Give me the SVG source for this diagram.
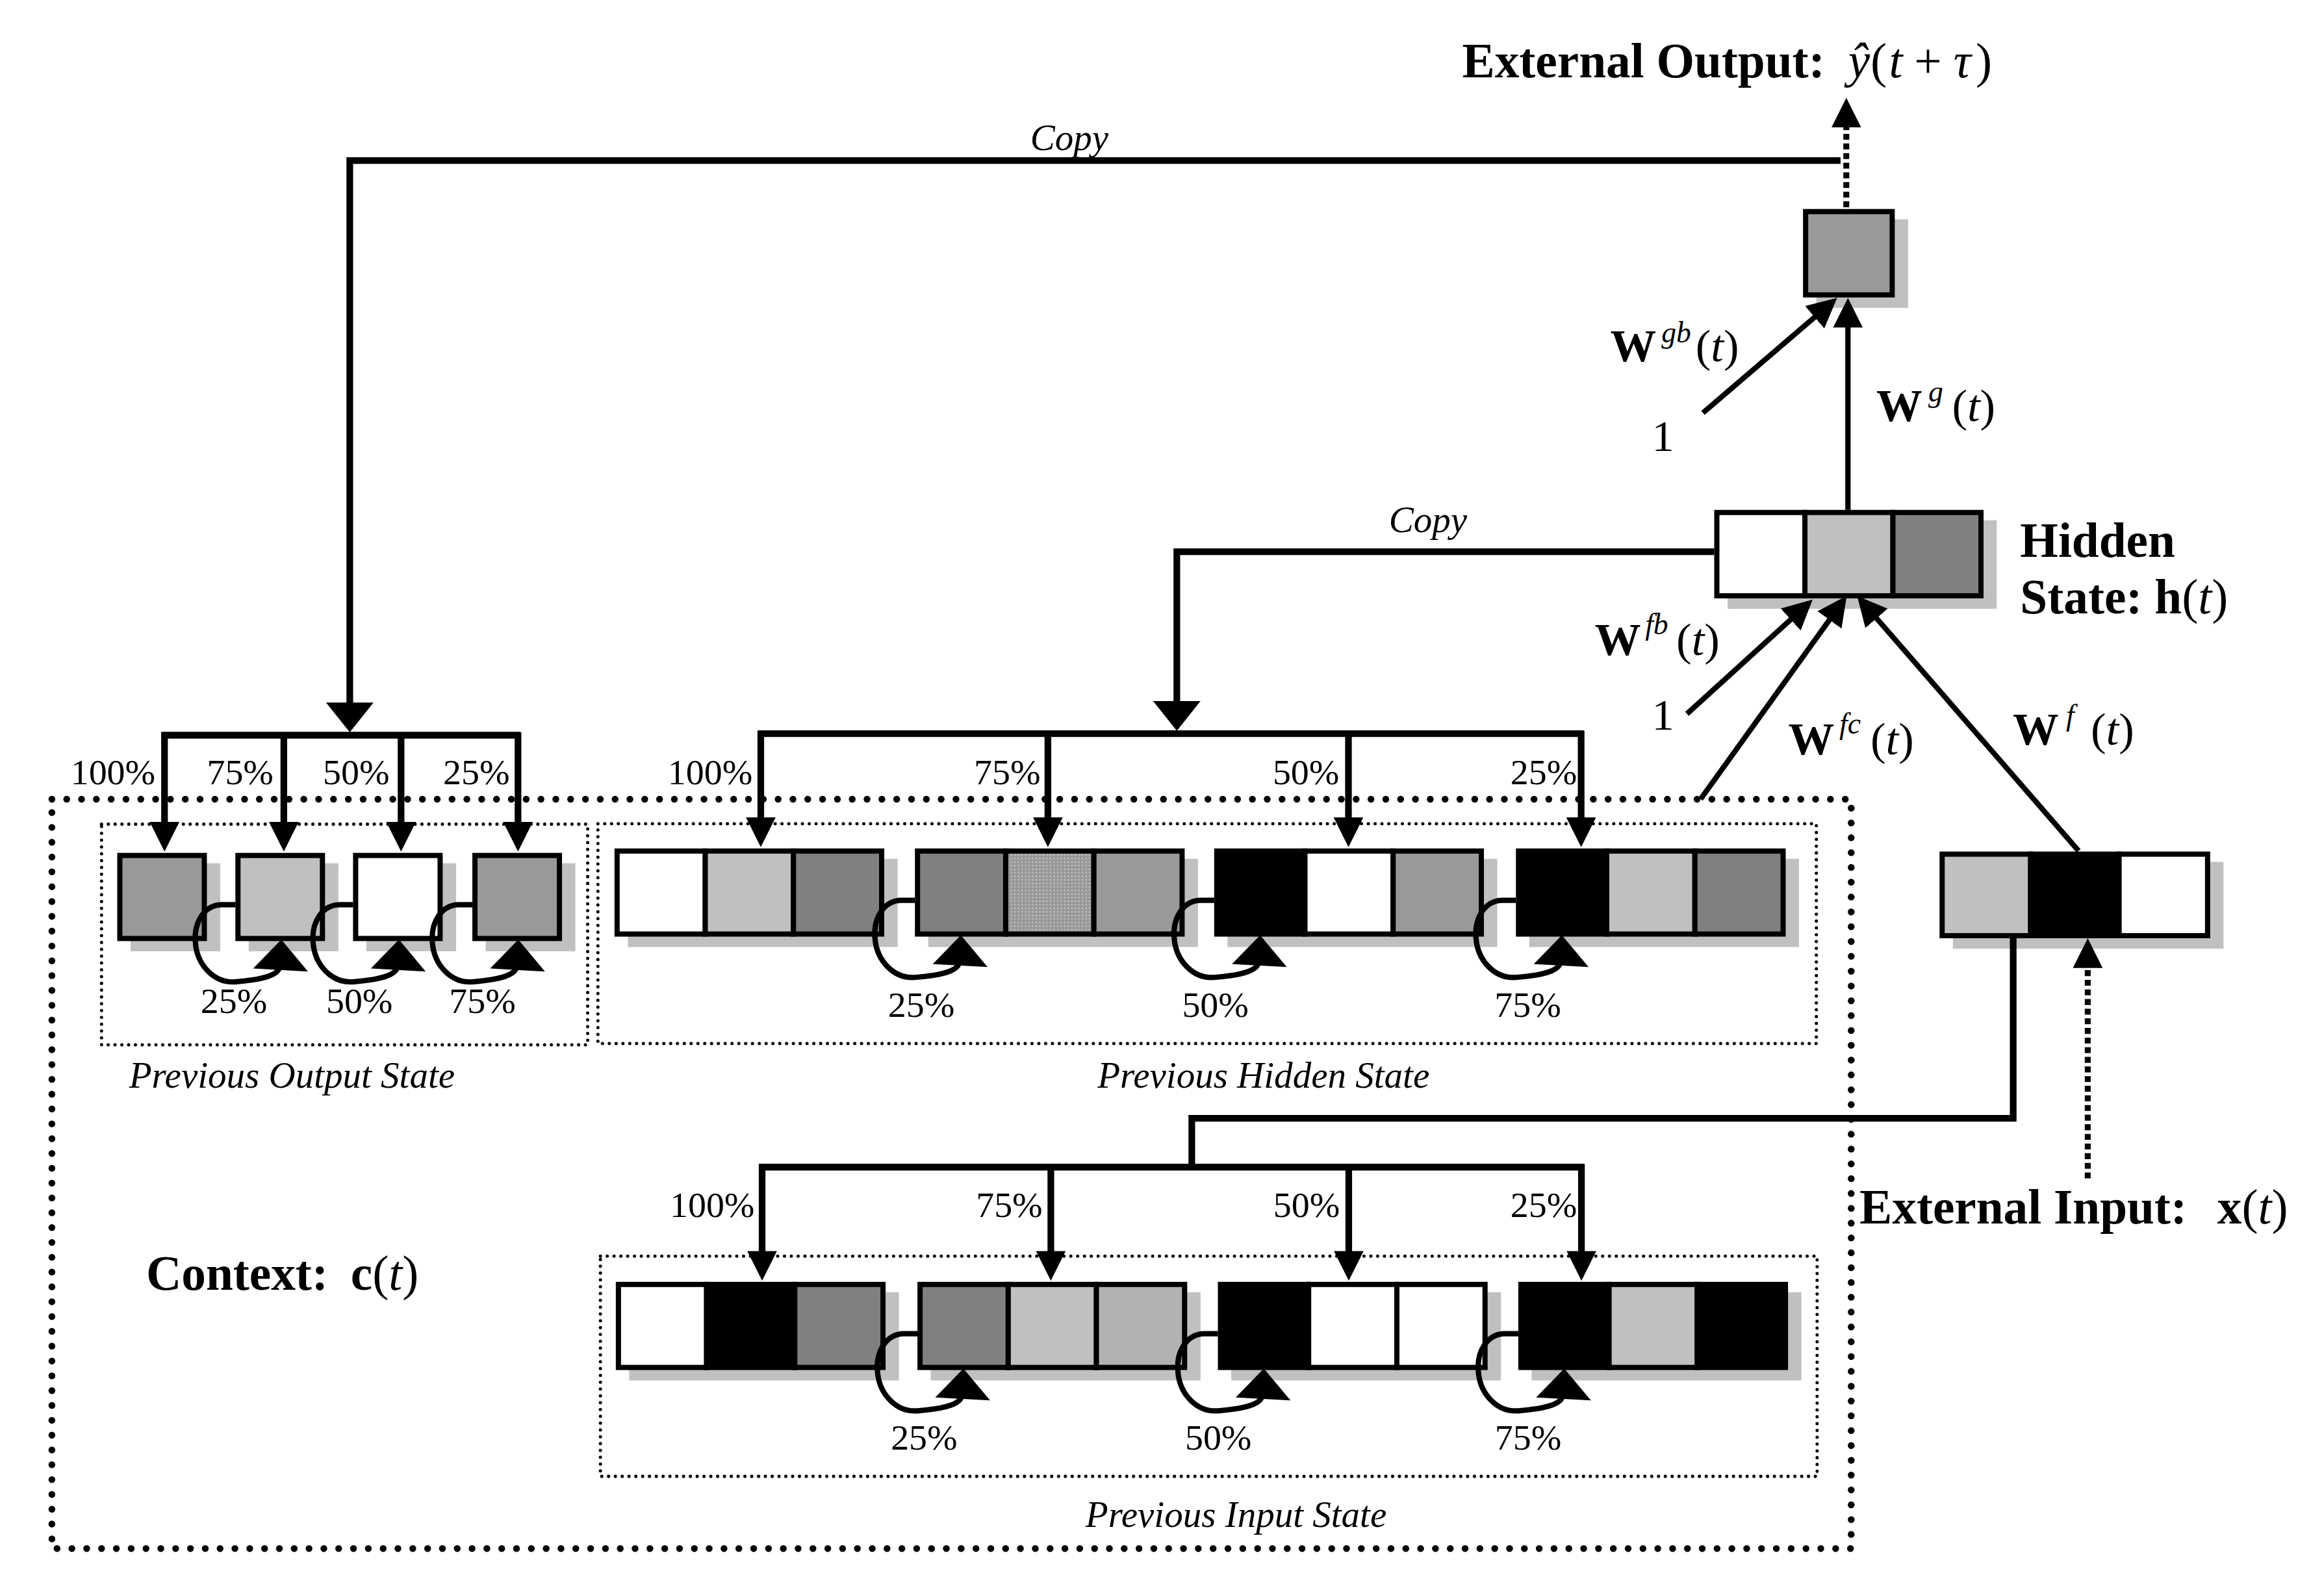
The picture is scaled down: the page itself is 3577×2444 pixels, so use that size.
<svg xmlns="http://www.w3.org/2000/svg" width="3577" height="2444" viewBox="0 0 3577 2444">
<style>
text{font-family:"Liberation Serif","Times New Roman",serif;fill:#000}
.pct{font-size:24.5px}
.lbl{font-size:25px;font-style:italic}
.bold{font-size:33px;font-weight:bold}
.math{font-size:33px}
.wb{font-size:31px;font-weight:bold}
.sup{font-size:20px;font-style:italic;font-weight:normal}
.par{font-size:31px;font-weight:normal}
.one{font-size:30px}
.i{font-style:italic;font-weight:normal}
.n{font-weight:normal;font-style:normal}
.cell{stroke:#000;stroke-width:3.5}
.sh{fill:#c0c0c0}
.conn{fill:none;stroke:#000;stroke-width:4.5}
.w{fill:none;stroke:#000;stroke-width:3.6}
.dash{fill:none;stroke:#000;stroke-width:4;stroke-dasharray:4 2.5}
.outer{fill:none;stroke:#000;stroke-width:4.6;stroke-linecap:round;stroke-dasharray:0 10}
.inner{fill:none;stroke:#000;stroke-width:2.2;stroke-linecap:round;stroke-dasharray:0 4.6}
</style>
<defs>
<marker id="ah" markerUnits="userSpaceOnUse" markerWidth="20" markerHeight="20" refX="8" refY="10" orient="auto" viewBox="0 0 20 20"><path d="M0,0 L20,10 L0,20 z" fill="#000"/></marker>
<marker id="ahb" markerUnits="userSpaceOnUse" markerWidth="20" markerHeight="32" refX="8" refY="16" orient="auto" viewBox="0 0 20 32"><path d="M0,0 L20,16 L0,32 z" fill="#000"/></marker>
<pattern id="dots" width="2.4" height="2.4" patternUnits="userSpaceOnUse"><rect width="2.4" height="2.4" fill="#999"/><rect x="0.4" y="0.4" width="0.8" height="0.8" fill="#d4d4d4"/></pattern>
<g id="loop"><path class="w" d="M0,35 H-9 C-21,35 -28,47 -27,60 C-26,76 -14,88 0,87 C12,86 30,84 30,76"/><polygon points="31,58.5 12,78 49,80" fill="#000"/></g>
</defs>
<rect width="3577" height="2444" fill="#fff"/>
<g transform="scale(2.28125)">

<g id="context-frames">
<rect class="outer" x="35" y="539.2" width="1214" height="505.5"/>
<rect class="inner" x="68.5" y="556" width="328" height="148.9"/>
<rect class="inner" x="403.4" y="555.7" width="822.1" height="148.3"/>
<rect class="inner" x="405.1" y="847.5" width="820.9" height="148.5"/>
<text class="lbl" x="197" y="734" text-anchor="middle">Previous Output State</text>
<text class="lbl" x="852.5" y="734" text-anchor="middle">Previous Hidden State</text>
<text class="lbl" x="834" y="1030" text-anchor="middle">Previous Input State</text>
<text class="bold" x="98.6" y="870">Context:<tspan x="236.6">c</tspan><tspan class="n">(</tspan><tspan class="i">t</tspan><tspan class="n">)</tspan></text>
</g>

<g id="output-node">
<rect class="sh" x="1225.5" y="148" width="61.9" height="59.7"/>
<rect class="cell" x="1218.25" y="142.75" width="58.4" height="56.2" fill="#999"/>
<text class="bold" x="986.5" y="52">External Output:</text>
<text class="math i" x="1247" y="52">ŷ</text>
<text class="math" x="1262" y="52">(</text>
<text class="math i" x="1274.5" y="52">t</text>
<text class="math" x="1291.5" y="52">+</text>
<text class="math i" x="1318" y="52">τ</text>
<text class="math" x="1333" y="52">)</text>
</g>

<g id="hidden-state">
<rect class="sh" x="1165.6" y="351" width="181.6" height="59.7"/>
<rect class="cell" x="1158.35" y="345.75" width="59.4" height="56.2" fill="#fff"/>
<rect class="cell" x="1217.75" y="345.75" width="59.4" height="56.2" fill="#c0c0c0"/>
<rect class="cell" x="1277.15" y="345.75" width="59.4" height="56.2" fill="#808080"/>
<text class="bold" x="1363" y="375.8">Hidden</text>
<text class="bold" x="1363" y="413.8">State: h<tspan class="n">(</tspan><tspan class="i">t</tspan><tspan class="n">)</tspan></text>
</g>

<g id="external-input">
<rect class="sh" x="1317.6" y="581.5" width="182.6" height="58.5"/>
<rect class="cell" x="1310.35" y="576.25" width="59.7" height="55" fill="#c0c0c0"/>
<rect class="cell" x="1370.05" y="576.25" width="59.7" height="55" fill="#000"/>
<rect class="cell" x="1429.75" y="576.25" width="59.7" height="55" fill="#fff"/>
<text class="bold" x="1254.6" y="825.3">External Input:<tspan x="1496">x</tspan><tspan class="n">(</tspan><tspan class="i">t</tspan><tspan class="n">)</tspan></text>
</g>

<g id="previous-output-state">
<rect class="sh" x="88.1" y="582.4" width="60.5" height="59.4"/>
<rect class="sh" x="167.8" y="582.4" width="60.5" height="59.4"/>
<rect class="sh" x="247.2" y="582.4" width="60.5" height="59.4"/>
<rect class="sh" x="327.7" y="582.4" width="60.5" height="59.4"/>
<rect class="cell" x="80.85" y="577.15" width="57" height="56" fill="#999"/>
<rect class="cell" x="160.55" y="577.15" width="57" height="56" fill="#c0c0c0"/>
<rect class="cell" x="239.95" y="577.15" width="57" height="56" fill="#fff"/>
<rect class="cell" x="320.45" y="577.15" width="57" height="56" fill="#999"/>
</g>

<g id="previous-hidden-state">
<rect class="sh" x="423.6" y="579.4" width="182" height="59.5"/>
<rect class="sh" x="626.3" y="579.4" width="182" height="59.5"/>
<rect class="sh" x="828.2" y="579.4" width="182" height="59.5"/>
<rect class="sh" x="1031.8" y="579.4" width="182" height="59.5"/>
<rect class="cell" x="416.35" y="574.15" width="59.5" height="56" fill="#fff"/>
<rect class="cell" x="475.85" y="574.15" width="59.5" height="56" fill="#c0c0c0"/>
<rect class="cell" x="535.35" y="574.15" width="59.5" height="56" fill="#808080"/>
<rect class="cell" x="619.05" y="574.15" width="59.5" height="56" fill="#808080"/>
<rect class="cell" x="678.55" y="574.15" width="59.5" height="56" fill="url(#dots)"/>
<rect class="cell" x="738.05" y="574.15" width="59.5" height="56" fill="#999"/>
<rect class="cell" x="820.95" y="574.15" width="59.5" height="56" fill="#000"/>
<rect class="cell" x="880.45" y="574.15" width="59.5" height="56" fill="#fff"/>
<rect class="cell" x="939.95" y="574.15" width="59.5" height="56" fill="#999"/>
<rect class="cell" x="1024.55" y="574.15" width="59.5" height="56" fill="#000"/>
<rect class="cell" x="1084.05" y="574.15" width="59.5" height="56" fill="#c0c0c0"/>
<rect class="cell" x="1143.55" y="574.15" width="59.5" height="56" fill="#808080"/>
</g>

<g id="previous-input-state">
<rect class="sh" x="424.5" y="871.8" width="182" height="59.5"/>
<rect class="sh" x="628" y="871.8" width="182" height="59.5"/>
<rect class="sh" x="830.7" y="871.8" width="182" height="59.5"/>
<rect class="sh" x="1033.4" y="871.8" width="182" height="59.5"/>
<rect class="cell" x="417.25" y="866.55" width="59.5" height="56" fill="#fff"/>
<rect class="cell" x="476.75" y="866.55" width="59.5" height="56" fill="#000"/>
<rect class="cell" x="536.25" y="866.55" width="59.5" height="56" fill="#808080"/>
<rect class="cell" x="620.75" y="866.55" width="59.5" height="56" fill="#808080"/>
<rect class="cell" x="680.25" y="866.55" width="59.5" height="56" fill="#c0c0c0"/>
<rect class="cell" x="739.75" y="866.55" width="59.5" height="56" fill="#b2b2b2"/>
<rect class="cell" x="823.45" y="866.55" width="59.5" height="56" fill="#000"/>
<rect class="cell" x="882.95" y="866.55" width="59.5" height="56" fill="#fff"/>
<rect class="cell" x="942.45" y="866.55" width="59.5" height="56" fill="#fff"/>
<rect class="cell" x="1026.15" y="866.55" width="59.5" height="56" fill="#000"/>
<rect class="cell" x="1085.65" y="866.55" width="59.5" height="56" fill="#c0c0c0"/>
<rect class="cell" x="1145.15" y="866.55" width="59.5" height="56" fill="#000"/>
</g>

<g id="connectors">
<path class="conn" d="M1241.8,108.3 H236 V482" marker-end="url(#ahb)"/>
<text class="lbl" x="695.1" y="101.1">Copy</text>
<path class="conn" d="M1156.6,372.2 H794 V481" marker-end="url(#ahb)"/>
<text class="lbl" x="937.1" y="359.2">Copy</text>
<path class="conn" d="M109,496 H351"/>
<path class="conn" d="M111,494 V562.5" marker-end="url(#ah)"/>
<path class="conn" d="M191.5,494 V562.5" marker-end="url(#ah)"/>
<path class="conn" d="M270.6,494 V562.5" marker-end="url(#ah)"/>
<path class="conn" d="M349.5,494 V562.5" marker-end="url(#ah)"/>
<text class="pct" x="104.8" y="529" text-anchor="end">100%</text>
<text class="pct" x="184.5" y="529" text-anchor="end">75%</text>
<text class="pct" x="262.8" y="529" text-anchor="end">50%</text>
<text class="pct" x="343.9" y="529" text-anchor="end">25%</text>
<path class="conn" d="M511.4,495 H1068.5"/>
<path class="conn" d="M513.3,493 V559.5" marker-end="url(#ah)"/>
<path class="conn" d="M707,493 V559.5" marker-end="url(#ah)"/>
<path class="conn" d="M909.8,493 V559.5" marker-end="url(#ah)"/>
<path class="conn" d="M1066.8,493 V559.5" marker-end="url(#ah)"/>
<text class="pct" x="507.7" y="529" text-anchor="end">100%</text>
<text class="pct" x="702" y="529" text-anchor="end">75%</text>
<text class="pct" x="903.6" y="529" text-anchor="end">50%</text>
<text class="pct" x="1064" y="529" text-anchor="end">25%</text>
<path class="conn" d="M1358.3,633 V754.5 H804.1 V789"/>
<path class="conn" d="M512,787.4 H1069"/>
<path class="conn" d="M514.2,785.4 V852" marker-end="url(#ah)"/>
<path class="conn" d="M709,785.4 V852" marker-end="url(#ah)"/>
<path class="conn" d="M910,785.4 V852" marker-end="url(#ah)"/>
<path class="conn" d="M1067,785.4 V852" marker-end="url(#ah)"/>
<text class="pct" x="509.1" y="821" text-anchor="end">100%</text>
<text class="pct" x="703.4" y="821" text-anchor="end">75%</text>
<text class="pct" x="904" y="821" text-anchor="end">50%</text>
<text class="pct" x="1064" y="821" text-anchor="end">25%</text>
<use href="#loop" x="158.8" y="575.4"/>
<use href="#loop" x="238.2" y="575.4"/>
<use href="#loop" x="318.7" y="575.4"/>
<use href="#loop" x="617.3" y="572.4"/>
<use href="#loop" x="819.2" y="572.4"/>
<use href="#loop" x="1022.8" y="572.4"/>
<use href="#loop" x="619" y="864.8"/>
<use href="#loop" x="821.7" y="864.8"/>
<use href="#loop" x="1024.4" y="864.8"/>
<text class="pct" x="157.8" y="683.4" text-anchor="middle">25%</text>
<text class="pct" x="242.5" y="683.4" text-anchor="middle">50%</text>
<text class="pct" x="325.5" y="683.4" text-anchor="middle">75%</text>
<text class="pct" x="621.6" y="686" text-anchor="middle">25%</text>
<text class="pct" x="820" y="686" text-anchor="middle">50%</text>
<text class="pct" x="1030.8" y="686" text-anchor="middle">75%</text>
<text class="pct" x="623.5" y="978" text-anchor="middle">25%</text>
<text class="pct" x="822" y="978" text-anchor="middle">50%</text>
<text class="pct" x="1031" y="978" text-anchor="middle">75%</text>
<path class="w" d="M1246.8,344 V213" marker-end="url(#ah)"/>
<path class="w" d="M1149,278.5 L1230.4,208.8" marker-end="url(#ah)"/>
<path class="w" d="M1138.2,481.6 L1214.1,412.6" marker-end="url(#ah)"/>
<path class="w" d="M1147.4,539.1 L1239,411.7" marker-end="url(#ah)"/>
<path class="w" d="M1402.4,574 L1260.9,411.1" marker-end="url(#ah)"/>
<path class="dash" d="M1245.7,139.8 V78" marker-end="url(#ah)"/>
<path class="dash" d="M1408.6,795 V645" marker-end="url(#ah)"/>
<text class="wb" x="1086.5" y="243.8">W<tspan class="sup" x="1121" y="231">gb</tspan><tspan class="par" x="1144" y="243.8">(</tspan><tspan class="par i">t</tspan><tspan class="par">)</tspan></text>
<text class="one" x="1114.5" y="304.2">1</text>
<text class="wb" x="1266" y="284">W<tspan class="sup" x="1301" y="271">g</tspan><tspan class="par" x="1317" y="284">(</tspan><tspan class="par i">t</tspan><tspan class="par">)</tspan></text>
<text class="wb" x="1076" y="441.8">W<tspan class="sup" x="1110" y="428">fb</tspan><tspan class="par" x="1131" y="441.8">(</tspan><tspan class="par i">t</tspan><tspan class="par">)</tspan></text>
<text class="one" x="1114.5" y="492.1">1</text>
<text class="wb" x="1206.6" y="508.9">W<tspan class="sup" x="1241" y="495">fc</tspan><tspan class="par" x="1262" y="508.9">(</tspan><tspan class="par i">t</tspan><tspan class="par">)</tspan></text>
<text class="wb" x="1358" y="502.2">W<tspan class="sup" x="1394" y="489">f</tspan><tspan class="par" x="1410.6" y="502.2">(</tspan><tspan class="par i">t</tspan><tspan class="par">)</tspan></text>
</g>
</g>
</svg>
